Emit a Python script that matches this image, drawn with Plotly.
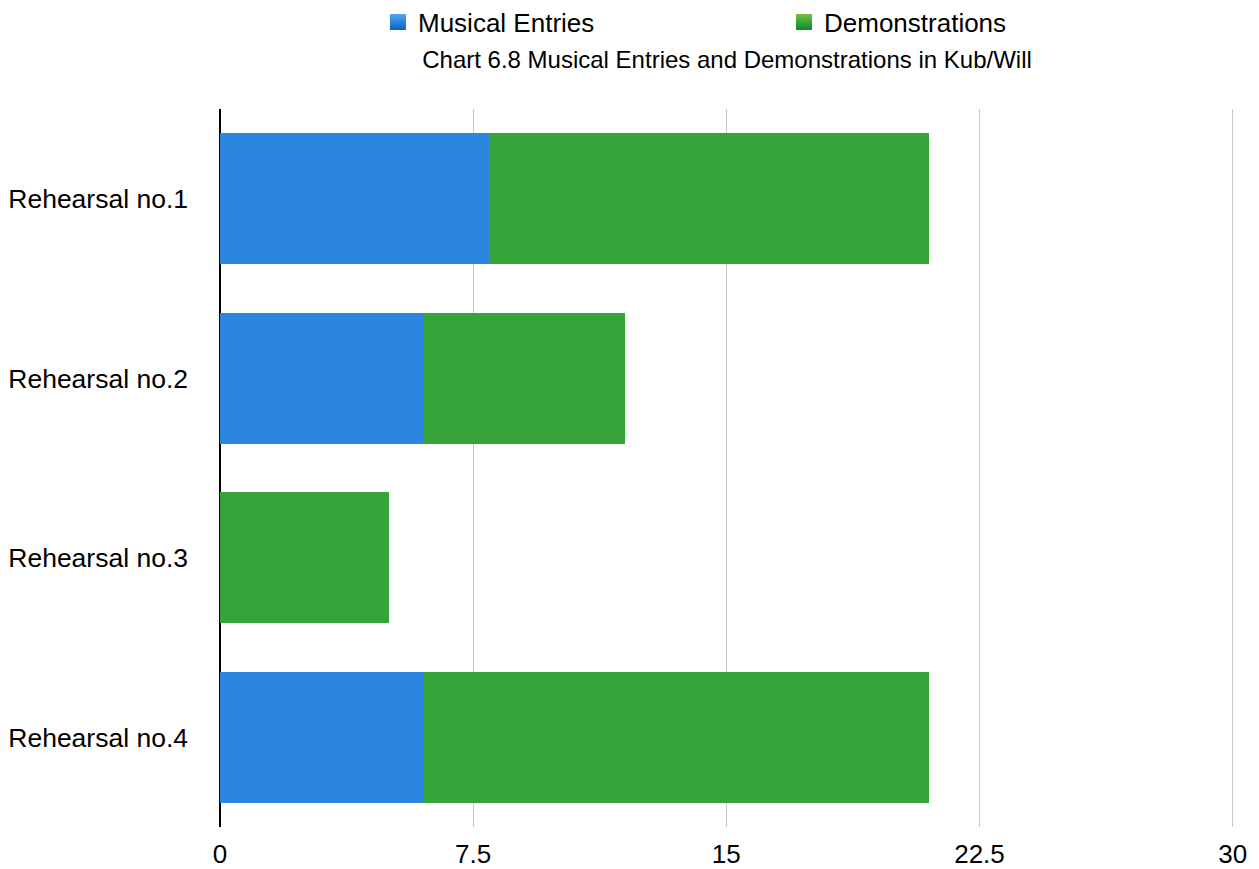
import plotly.graph_objects as go

categories = ["Rehearsal no.1", "Rehearsal no.2", "Rehearsal no.3", "Rehearsal no.4"]
musical_entries = [8, 6, 0, 6]
demonstrations = [13, 6, 5, 15]
x_ticks = [0, 7.5, 15, 22.5, 30]
x_tick_labels = ["0", "7.5", "15", "22.5", "30"]

FONT = "Liberation Sans, Arial, Helvetica, sans-serif"
BLUE = "#2b86e0"
GREEN = "#37a43a"

# page body has an 8px margin, so the figure is sized to fit the 1259x869 window
W, H = 1251, 861

fig = go.Figure()
fig.add_trace(go.Bar(
    name="Musical Entries", y=categories, x=musical_entries, orientation="h",
    marker=dict(color=BLUE, line=dict(width=0)), showlegend=False,
))
fig.add_trace(go.Bar(
    name="Demonstrations", y=categories, x=demonstrations, orientation="h",
    marker=dict(color=GREEN, line=dict(width=0)), showlegend=False,
))
# legend entries with larger square swatches (vertical gradient like the reference)
fig.add_trace(go.Scatter(
    name="Musical Entries", x=[None], y=[None], mode="markers",
    marker=dict(symbol="square", size=16, color="#52a6f7",
                gradient=dict(type="vertical", color="#0a63c2"), line=dict(width=0)),
))
fig.add_trace(go.Scatter(
    name="Demonstrations", x=[None], y=[None], mode="markers",
    marker=dict(symbol="square", size=16, color="#72c046",
                gradient=dict(type="vertical", color="#078a2e"), line=dict(width=0)),
))

fig.update_layout(
    width=W, height=H,
    barmode="stack", bargap=0.27,
    paper_bgcolor="white", plot_bgcolor="white",
    margin=dict(l=212, r=25, t=101, b=42, autoexpand=False),
    font=dict(family=FONT, color="black", size=26),
    title=dict(
        text="Chart 6.8 Musical Entries and Demonstrations in Kub/Will",
        x=0.5, xref="paper", xanchor="center",
        y=1 - 52 / H, yref="container", yanchor="middle",
        font=dict(size=24, color="black", family=FONT),
    ),
    legend=dict(
        orientation="h", xref="container", yref="container",
        x=370 / W, xanchor="left", y=1 - 14 / H, yanchor="middle",
        font=dict(size=26, family=FONT), entrywidth=361, traceorder="normal",
        itemsizing="trace",
    ),
    xaxis=dict(
        range=[0, 30.04], tickvals=x_ticks, ticktext=x_tick_labels,
        showgrid=True, gridcolor="#c8c8c8", gridwidth=1,
        zeroline=True, zerolinecolor="black", zerolinewidth=2,
        showline=False, ticks="", tickfont=dict(size=26),
        ticklabelstandoff=9, automargin=False,
    ),
    yaxis=dict(
        categoryorder="array", categoryarray=categories, autorange="reversed",
        showgrid=False, zeroline=False, showline=False, ticks="",
        tickfont=dict(size=26.5), ticklabelstandoff=31, automargin=False,
    ),
)

fig.write_html("out.html")
